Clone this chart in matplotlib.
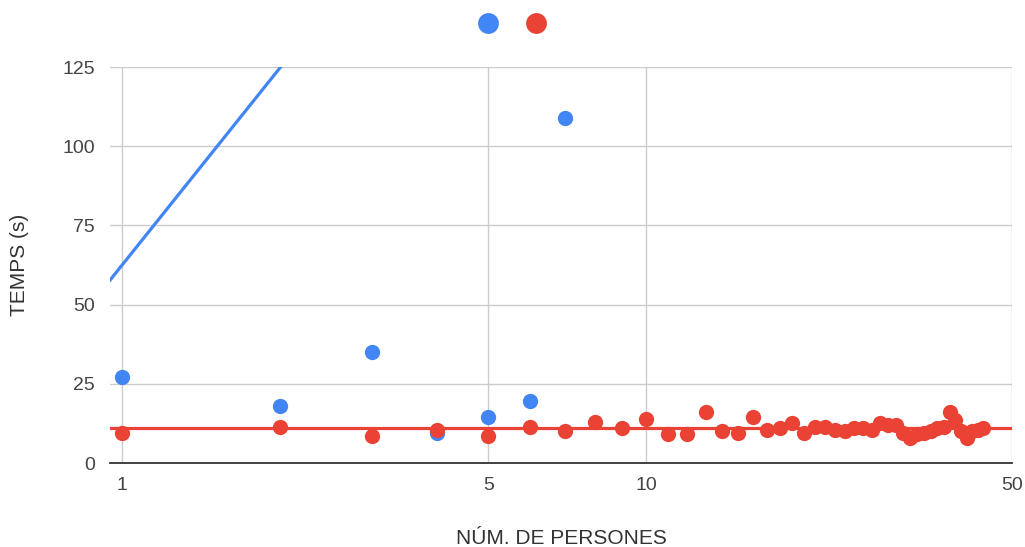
import matplotlib.pyplot as plt
from matplotlib.lines import Line2D
import numpy as np

plt.rcParams['font.family'] = ['Liberation Sans', 'DejaVu Sans']

# blue series
blue_x = [1, 2, 3, 4, 5, 6, 7]
blue_y = [27, 18, 35, 9.5, 14.5, 19.5, 109]

# red series
red_x = list(range(1, 45))
red_y = [9.5, 11.5, 8.5, 10.5, 8.5, 11.5, 10, 13, 11, 14,
         9, 9, 16, 10, 9.5, 14.5, 10.5, 11, 12.5, 9.5,
         11.5, 11.5, 10.5, 10, 11, 11, 10.5, 12.5, 12, 12,
         9.5, 8, 9, 9.5, 10, 11, 11.5, 16, 13.5, 10,
         8, 10, 10.5, 11]

# trendlines (as shown in the sheet)
blue_trend = (62.5, 89.7)   # y = a + b*ln(x)
red_trend = 11.0            # constant

x_ticks = [1, 5, 10, 50]
y_ticks = [0, 25, 50, 75, 100, 125]

blue = '#4285F4'
red = '#EA4335'

fig = plt.figure(figsize=(10.25, 5.47), dpi=100)
ax = fig.add_axes([110/1025, 1-463/547, (1012-110)/1025, (463-67)/547])

ax.set_xscale('log')
ax.set_xlim(0.948, 50)
ax.set_ylim(0, 125)

xs = np.geomspace(0.948, 50, 200)
ax.plot(xs, blue_trend[0] + blue_trend[1]*np.log(xs), color=blue, lw=2.3, zorder=2)
ax.plot(xs, np.full_like(xs, red_trend), color=red, lw=2.3, zorder=2)

ax.plot(blue_x, blue_y, 'o', color=blue, ms=11, mec='none', zorder=3)
ax.plot(red_x, red_y, 'o', color=red, ms=11, mec='none', zorder=4)

ax.set_xticks(x_ticks)
ax.set_xticklabels([str(t) for t in x_ticks])
ax.xaxis.set_minor_locator(plt.NullLocator())
ax.set_yticks(y_ticks)
ax.grid(True, color='#cccccc', lw=1)
ax.set_axisbelow(True)
for s in ['top', 'right', 'left']:
    ax.spines[s].set_visible(False)
ax.spines['bottom'].set_color('#333333')
ax.spines['bottom'].set_linewidth(1.3)
ax.tick_params(length=0, labelsize=14, colors='#444444', pad=11)
ax.tick_params(axis='x', pad=10)

fig.text(561/1025, 1-538/547, 'NÚM. DE PERSONES', ha='center', va='center', fontsize=15, color='#333333')
fig.text(20/1025, 1-265/547, 'TEMPS (s)', ha='center', va='center', rotation=90, fontsize=15, color='#333333')

handles = [Line2D([], [], ls='none', marker='o', color=blue, ms=15, mec='none'),
           Line2D([], [], ls='none', marker='o', color=red, ms=15, mec='none')]
fig.legend(handles, ['', ''], loc='center', bbox_to_anchor=(512/1025, 1-24/547),
           ncol=2, frameon=False, handlelength=1, handletextpad=0, columnspacing=2.45)

fig.savefig('out.png', dpi=100)
